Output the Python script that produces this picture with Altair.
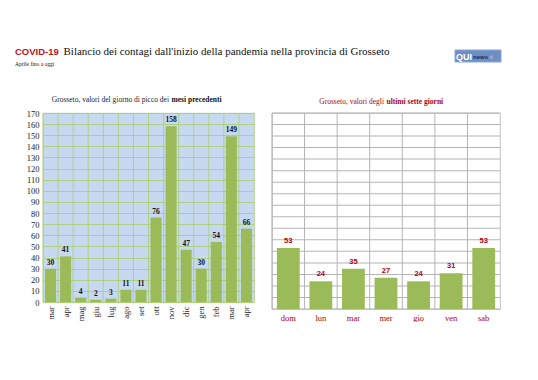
import altair as alt
import pandas as pd

# ---- data ----
month_keys = ["mar 2020", "apr 2020", "mag 2020", "giu 2020", "lug 2020", "ago 2020",
              "set 2020", "ott 2020", "nov 2020", "dic 2020", "gen 2021", "feb 2021",
              "mar 2021", "apr 2021"]
month_peaks = [30, 41, 4, 2, 3, 11, 11, 76, 158, 47, 30, 54, 149, 66]
days = ["dom", "lun", "mar", "mer", "gio", "ven", "sab"]
day_values = [53, 24, 35, 27, 24, 31, 53]
y_ticks = list(range(0, 171, 10))

SERIF = "Liberation Serif"
SANS = "Liberation Sans"
RED = "#b0000f"
BAR = "#9bbb59"
RGRID = "#b4b4b4"

left_df = pd.DataFrame({"mese": month_keys, "valore": month_peaks})
right_df = pd.DataFrame({"giorno": days, "valore": day_values})
ticks_df = pd.DataFrame({"valore": y_ticks})

LW, LH = 211, 189
RW, RH = 228, 196

# ---- left panel ----
lx = alt.X("mese:N", sort=month_keys,
           scale=alt.Scale(paddingInner=0.27, paddingOuter=0.135),
           axis=alt.Axis(title=None, labelAngle=-90, labelFont=SERIF, labelFontSize=8.5,
                         labelColor="#222", ticks=False, domain=False, grid=False,
                         labelPadding=4, labelBaseline="middle", labelAlign="right",
                         labelExpr="split(datum.label, ' ')[0]"))
ly = alt.Y("valore:Q", scale=alt.Scale(domain=[0, 170], nice=False),
           axis=alt.Axis(title=None, values=y_ticks, labelFont=SERIF, labelFontSize=8.5,
                         labelColor="#222", ticks=False, domain=False, grid=True,
                         labelOverlap=False, labelFlush=False,
                         gridColor="#a9cf6a", gridWidth=0.8, labelPadding=4))

lbase = alt.Chart(left_df)
l_bars = lbase.mark_bar(color=BAR).encode(x=lx, y=ly)
l_vgrid = lbase.mark_rule(color="#a9cf6a", strokeWidth=0.8, xOffset=-LW / 28).encode(x=lx)
l_text = lbase.mark_text(font=SERIF, fontSize=7.5, fontWeight="bold", color="#111",
                         dy=-6).encode(x=lx, y=ly, text="valore:Q")

tdf = pd.DataFrame({"t": [0]})
title_a = alt.Chart(tdf).mark_text(text="COVID-19", font=SANS, fontWeight="bold",
                                   fontSize=9.5, color="#c0131b", align="left",
                                   baseline="alphabetic").encode(
    x=alt.value(-28), y=alt.value(-58))
title_b = alt.Chart(tdf).mark_text(
    text="Bilancio dei contagi dall'inizio della pandemia nella provincia di Grosseto",
    font=SERIF, fontSize=11, color="#111", align="left", baseline="alphabetic").encode(
    x=alt.value(20.5), y=alt.value(-58))
subtitle = alt.Chart(tdf).mark_text(text="Aprile fino a oggi", font=SERIF, fontSize=5.5,
                                    color="#111", align="left",
                                    baseline="alphabetic").encode(
    x=alt.value(-28), y=alt.value(-47))
lsub_a = alt.Chart(tdf).mark_text(text="Grosseto, valori del giorno di picco dei",
                                  font=SERIF, fontSize=7.5, color="#222", align="right",
                                  baseline="alphabetic").encode(
    x=alt.value(126), y=alt.value(-11))
lsub_b = alt.Chart(tdf).mark_text(text="mesi precedenti", font=SERIF, fontSize=7.5,
                                  fontWeight="bold", color="#111", align="left",
                                  baseline="alphabetic").encode(
    x=alt.value(128.5), y=alt.value(-11))

left = alt.layer(l_vgrid, l_bars, l_text, title_a, title_b, subtitle, lsub_a, lsub_b).properties(
    width=LW, height=LH,
    view=alt.ViewBackground(fill="#c6d9f1", stroke="#a9cf6a", strokeWidth=0.8))

# ---- right panel ----
rscale = alt.Scale(domain=[0, 170], nice=False)
rx = alt.X("giorno:N", sort=days,
           scale=alt.Scale(paddingInner=0.3, paddingOuter=0.15),
           axis=alt.Axis(title=None, labelAngle=0, labelFont=SERIF, labelFontSize=8.5,
                         labelColor=RED, ticks=False, domain=False, grid=False,
                         labelPadding=4))
ry = alt.Y("valore:Q", scale=rscale, axis=None)
rbase = alt.Chart(right_df)
r_hgrid = alt.Chart(ticks_df).mark_tick(orient="horizontal", size=RW, thickness=1,
                                        color=RGRID, opacity=1).encode(y=ry)
r_vgrid = rbase.mark_rule(color=RGRID, strokeWidth=1, xOffset=-RW / 14).encode(x=rx)
r_bars = rbase.mark_bar(color=BAR).encode(x=rx, y=ry)
r_text = rbase.mark_text(font=SANS, fontSize=7.5, fontWeight="bold", color=RED,
                         dy=-7).encode(x=rx, y=ry, text="valore:Q")
rsub_a = alt.Chart(tdf).mark_text(text="Grosseto, valori degli", font=SERIF,
                                  fontSize=7.5, color=RED, align="right",
                                  baseline="alphabetic").encode(
    x=alt.value(112), y=alt.value(-9))
rsub_b = alt.Chart(tdf).mark_text(text="ultimi sette giorni", font=SERIF, fontSize=7.5,
                                  fontWeight="bold", color=RED, align="left",
                                  baseline="alphabetic").encode(
    x=alt.value(114.5), y=alt.value(-9))
logo_box = alt.Chart(tdf).mark_rect(color="#6f8ec4", stroke="#8aa6d6").encode(
    x=alt.value(183), x2=alt.value(229), y=alt.value(-63), y2=alt.value(-51))
logo_a = alt.Chart(tdf).mark_text(text="QUI", font=SANS, fontWeight="bold", fontSize=9,
                                  color="white", align="left",
                                  baseline="alphabetic").encode(
    x=alt.value(184), y=alt.value(-53.5))
logo_b = alt.Chart(tdf).mark_text(text="news", font=SANS, fontWeight="bold", fontSize=6,
                                  color="#1c2a4a", align="left",
                                  baseline="alphabetic").encode(
    x=alt.value(201), y=alt.value(-54))
logo_c = alt.Chart(tdf).mark_text(text="it", font=SANS, fontSize=5.5, color="#c8d8f0",
                                  align="left", baseline="alphabetic").encode(
    x=alt.value(218), y=alt.value(-54))

right = alt.layer(r_hgrid, r_vgrid, r_bars, r_text, rsub_a, rsub_b, logo_box, logo_a,
                  logo_b, logo_c).properties(
    width=RW, height=RH,
    view=alt.ViewBackground(fill="white", stroke="#b4b4b4", strokeWidth=0.8))

chart = alt.hconcat(left, right, spacing=18, bounds="flush").properties(
    padding={"left": 6, "top": 37, "right": 0, "bottom": 0},
    background="white",
).configure_view(strokeWidth=0.8)

chart.save("out.html", embed_options={"renderer": "svg", "actions": False})
